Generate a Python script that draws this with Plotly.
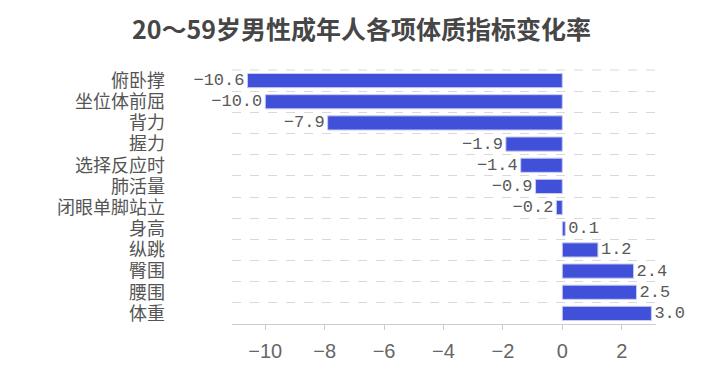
import plotly.graph_objects as go

categories = ["俯卧撑", "坐位体前屈", "背力", "握力", "选择反应时", "肺活量",
              "闭眼单脚站立", "身高", "纵跳", "臀围", "腰围", "体重"]
values = [-10.6, -10.0, -7.9, -1.9, -1.4, -0.9, -0.2, 0.1, 1.2, 2.4, 2.5, 3.0]
labels = ["−10.6", "−10.0", "−7.9", "−1.9", "−1.4", "−0.9", "−0.2", "0.1", "1.2", "2.4", "2.5", "3.0"]
xticks = [-10, -8, -6, -4, -2, 0, 2]

fig = go.Figure(go.Bar(
    y=categories, x=values, orientation="h",
    marker=dict(color="#4150d8", line=dict(color="#c8ccf0", width=1)),
    text=labels, textposition="outside", cliponaxis=False, constraintext="none",
    textfont=dict(family="Liberation Mono", size=17, color="#595959"),
))

fig.update_layout(
    width=723, height=374,
    margin=dict(l=232, r=67, t=70, b=45),
    paper_bgcolor="white", plot_bgcolor="white",
    bargap=0.33,
    showlegend=False,
    title=dict(text="<b>20～59岁男性成年人各项体质指标变化率</b>", x=0.5, xanchor="center",
               y=1 - 30 / 374, yanchor="middle",
               font=dict(family="Noto Sans CJK SC", size=25, color="#464646")),
    font=dict(family="Noto Sans CJK SC", color="#555555"),
    uniformtext=dict(mode=False),
)
fig.update_xaxes(
    range=[-11.12, 3.155], tickvals=xticks, showgrid=False, zeroline=False,
    showline=True, linecolor="#cccccc", linewidth=1,
    ticks="outside", tickcolor="#cccccc", ticklen=5,
    ticklabelstandoff=4,
    tickfont=dict(family="Liberation Sans", size=20, color="#666666"),
)
fig.update_yaxes(
    type="category", categoryorder="array", categoryarray=categories,
    tickmode="array", tickvals=categories, ticktext=categories,
    autorange="reversed",
    tickson="boundaries", showgrid=True, gridcolor="#d9d9d9", griddash="dash",
    ticks="", showline=False, zeroline=False, ticklabelstandoff=66,
    tickfont=dict(family="Liberation Sans, Noto Sans CJK SC", size=18, color="#555555"),
)
fig.add_shape(type="line", xref="paper", yref="paper", x0=0, x1=1, y0=1, y1=1,
              line=dict(color="#d9d9d9", width=1, dash="dash"))

fig.write_html("out.html", config={"displayModeBar": False},
               post_script="document.body.style.margin='0';")
